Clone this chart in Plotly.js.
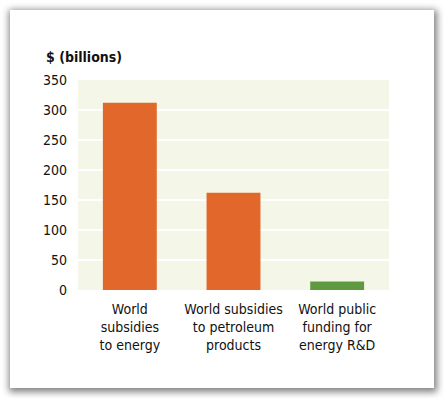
<!DOCTYPE html>
<html><head><meta charset="utf-8">
<script src="https://cdn.plot.ly/plotly-3.0.1.min.js"></script>
<style>
html,body{margin:0;padding:0;background:#fff;width:444px;height:398px;overflow:hidden;}
#card{position:absolute;left:10px;top:10px;width:424px;height:378px;background:#fff;box-shadow:1px 2px 7px 2px rgba(0,0,0,0.5);}
#chart{position:absolute;left:0;top:0;width:444px;height:398px;}
</style></head><body>
<div id="card"></div>
<div id="chart"></div>
<script>
const categories = ["World<br>subsidies<br>to energy", "World subsidies<br>to petroleum<br>products", "World public<br>funding for<br>energy R&D"];
const values = [312, 162, 14];
const barColors = ["#e2672b", "#e2672b", "#5f9a40"];
const tickVals = [0, 50, 100, 150, 200, 250, 300, 350];
const yTitle = "$ (billions)";
const fontFam = "'Liberation Sans Narrow', 'DejaVu Sans Condensed', 'Roboto', sans-serif";

Plotly.newPlot('chart', [{
  type: 'bar', x: categories, y: values,
  marker: {color: barColors},
  hoverinfo: 'none'
}], {
  width: 444, height: 398,
  margin: {l: 78, r: 55, t: 80, b: 108},
  paper_bgcolor: 'rgba(0,0,0,0)',
  plot_bgcolor: '#f4f7e7',
  bargap: 0.48,
  showlegend: false,
  font: {family: fontFam, color: '#111', size: 14},
  xaxis: {showgrid: false, zeroline: false, showline: false, ticks: '', ticklabelstandoff: 9, tickfont: {size: 14, color: '#111'}, fixedrange: true},
  yaxis: {range: [0, 350], tickvals: tickVals, showgrid: true, gridcolor: '#ffffff', gridwidth: 2, zeroline: false, showline: false, ticks: '', ticklabelstandoff: 10, tickfont: {size: 14, color: '#111'}, fixedrange: true},
  annotations: [{text: '<b>' + yTitle + '</b>', xref: 'paper', yref: 'paper', x: -0.11, y: 1.06, xanchor: 'left', yanchor: 'bottom', showarrow: false, font: {size: 14, color: '#111', family: fontFam}}]
}, {staticPlot: true});
</script>
</body></html>
